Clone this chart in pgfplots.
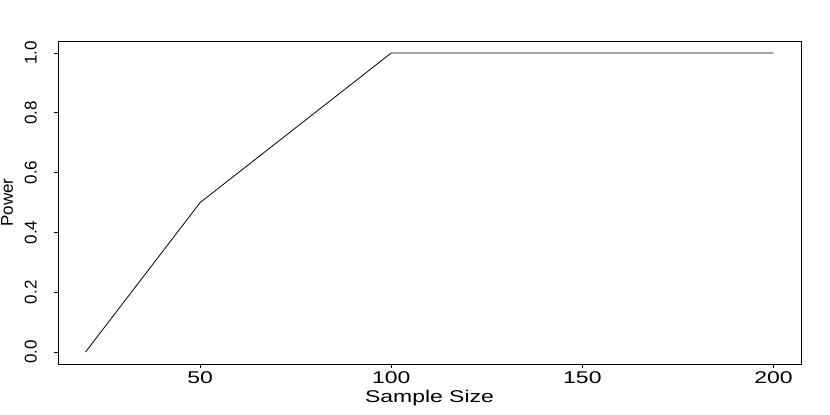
\documentclass[border=0pt]{standalone}
\usepackage{fontspec}
\setmainfont{Liberation Sans}
\newfontfamily\widefont[FakeStretch=1.35]{Liberation Sans}
\usepackage{pgfplots}
\pgfplotsset{compat=1.18}
\begin{document}
\begin{tikzpicture}
  % page = reference canvas, axis box at the origin
  \path[use as bounding box] (-58pt,-51pt) rectangle (772pt,364pt);
  \begin{axis}[
    at={(0pt,0pt)}, anchor=south west,
    scale only axis,
    width=743pt, height=323pt,
    xmin=12.8, xmax=207.2,
    ymin=-0.04, ymax=1.04,
    xtick={50,100,150,200},
    ytick={0,0.2,0.4,0.6,0.8,1.0},
    xtick pos=bottom, ytick pos=left,
    tick align=outside,
    major tick length=4pt,
    axis line style={line width=0.8pt},
    every tick/.style={black, line width=0.8pt},
    /pgf/number format/assume math mode=true,
    yticklabel={\pgfmathprintnumber[fixed,fixed zerofill,precision=1]{\tick}},
    xticklabel style={font=\widefont\fontsize{17}{17}\selectfont,
      anchor=north, inner sep=0pt, yshift=-3pt},
    % rotated frame: +y points left
    yticklabel style={font=\fontsize{17}{17}\selectfont,
      rotate=90, anchor=south, inner sep=0pt, yshift=17pt},
    xlabel={Sample Size},
    ylabel={Power},
    xlabel style={font=\widefont\fontsize{17}{17}\selectfont,
      at={(axis description cs:0.5,0)}, anchor=base, yshift=-38pt},
    ylabel style={font=\fontsize{17}{17}\selectfont,
      at={(axis description cs:0,0.5)}, anchor=base, yshift=45pt},
  ]
    \addplot[black, line width=0.8pt, mark=none] coordinates {
      (20,0) (50,0.5) (100,1) (150,1) (200,1)
    };
  \end{axis}
\end{tikzpicture}
\end{document}
